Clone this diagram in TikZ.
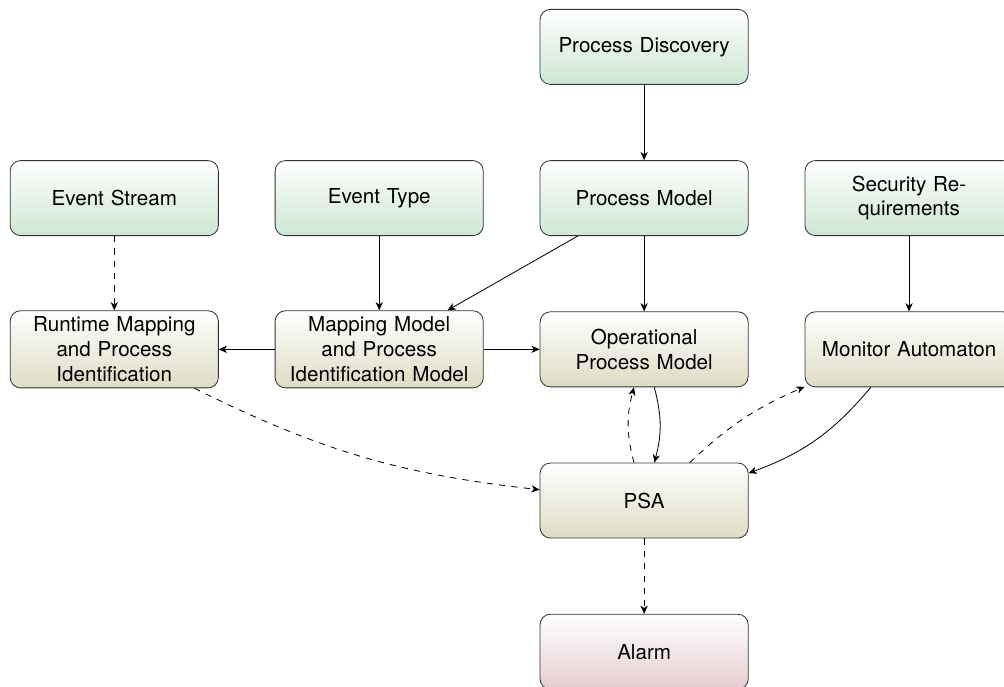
\documentclass[tikz,border=0pt]{standalone}
\usepackage{fontspec}
\setmainfont{TeX Gyre Heros}
\usetikzlibrary{positioning,arrows.meta}
\definecolor{srcgreen}{RGB}{205,230,210}
\definecolor{modelolive}{RGB}{222,220,196}
\definecolor{alarmred}{RGB}{230,204,208}

\begin{document}
\begin{tikzpicture}[on grid, node distance={2.58cm and 4.52cm},
  >={Stealth[length=4pt,width=3.5pt,inset=1.2pt]},
  main/.style = {draw=black!80, rounded corners=5pt, align=center, text width=3.34cm,
    minimum height=1.28cm, inner sep=3pt, top color=white},
  input/.style = {main, bottom color=srcgreen},
  model/.style = {main, bottom color=modelolive},
  alert/.style = {main, bottom color=alarmred}]
\clip (0,0) rectangle (17.13,-11.71);
\node[input] (1) at (10.99,-0.8) {Process Discovery};
\node[input] (2) [below=of 1] {Process Model};
\node[input] (3) [left=of 2] {Event Type};
\node[input] (4) [left=of 3] {Event Stream};
\node[input] (5) [right=of 2] {Security Re-\\quirements};
\node[model] (6) [below=of 2] {Operational\\Process Model};
\node[model] (7) [below=of 3] {Mapping Model\\and Process\\Identification Model};
\node[model] (8) [below=of 4] {Runtime Mapping\\and Process\\Identification};
\node[model] (9) [below=of 5] {Monitor Automaton};
\node[model] (10) [below=of 6] {PSA};
\node[alert] (11) [below=of 10] {Alarm};
\draw[->] (1) -- (2);
\draw[->, dashed] (4) -- (8);
\draw[->] (3) -- (7);
\draw[->] (2) -- (7);
\draw[->] (2) -- (6);
\draw[->] (5) -- (9);
\draw[->] (7) -- (8);
\draw[->] (7) -- (6);
\draw[->, dashed] (8) to[bend right=10] (10);
\draw[->] (6) to[bend left=15] (10);
\draw[->, dashed] (10) to[bend left=15] (6);
\draw[->, dashed] (10) to[bend left=10] (9);
\draw[->] (9) to[bend left=15] (10);
\draw[->, dashed] (10) -- (11);
\end{tikzpicture}
\end{document}
